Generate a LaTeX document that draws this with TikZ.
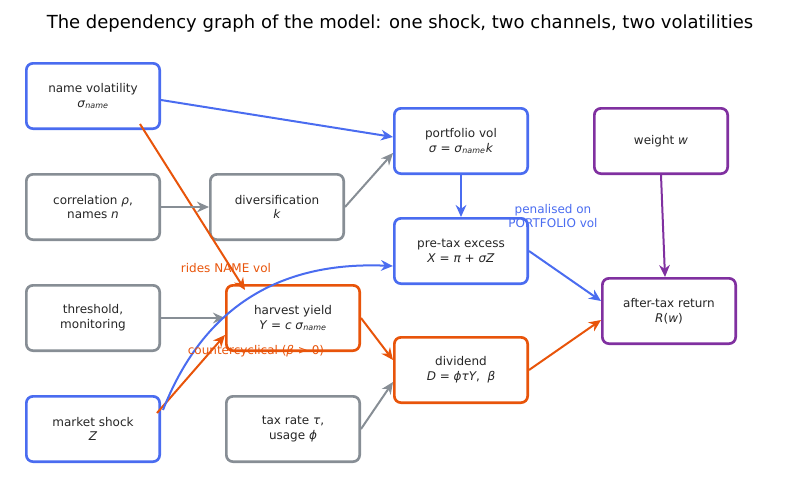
\documentclass[tikz,border=0pt]{standalone}
\usepackage{fontspec}
\setmainfont{DejaVu Sans}
\usetikzlibrary{arrows.meta}
\definecolor{cblue}{HTML}{4A6CF0}
\definecolor{cgray}{HTML}{878E95}
\definecolor{corange}{HTML}{E8540A}
\definecolor{cpurple}{HTML}{8030A0}
\newcommand{\vi}[1]{\textit{#1}}
\newcommand{\sub}[1]{\textsubscript{\textit{#1}}}
\begin{document}
\begin{tikzpicture}[x=0.75pt,y=-0.75pt,font=\small]
  \tikzstyle{box}=[draw, line width=2pt, rounded corners=5pt, minimum width=100pt, minimum height=49pt, align=center, fill=white, text=black!85]
  \tikzstyle{bluebox}=[box, draw=cblue]
  \tikzstyle{graybox}=[box, draw=cgray]
  \tikzstyle{orangebox}=[box, draw=corange]
  \tikzstyle{purplebox}=[box, draw=cpurple]
  \tikzstyle{link}=[line width=1.5pt, -{Stealth[length=9pt,width=8pt]}]
  \tikzstyle{lbl}=[font=\small, inner sep=1pt]

  \useasboundingbox (0,0) rectangle (800,497);
  \node at (400,24) {\fontsize{13.5}{16}\selectfont The dependency graph of the model: one shock, two channels, two volatilities};

  \node (namevol) [bluebox] at (93,96) {name volatility\\\vi{σ}\sub{name}};
  \node (corr) [graybox] at (93,207) {correlation \vi{ρ},\\names \vi{n}};
  \node (thresh) [graybox] at (93,318) {threshold,\\monitoring};
  \node (shock) [bluebox] at (93,429) {market shock\\\vi{Z}};
  \node (divers) [graybox] at (277,207) {diversification\\\vi{k}};
  \node (harvest) [orangebox] at (293,318) {harvest yield\\\vi{Y} = \vi{c} \vi{σ}\sub{name}};
  \node (tax) [graybox] at (293,429) {tax rate \vi{τ},\\usage \vi{ϕ}};
  \node (portvol) [bluebox] at (461,141) {portfolio vol\\\vi{σ} = \vi{σ}\sub{name}\vi{k}};
  \node (pretax) [bluebox] at (461,251) {pre-tax excess\\\vi{X} = \vi{π} + \vi{σZ}};
  \node (divid) [orangebox] at (461,370) {dividend\\\vi{D} = \vi{ϕτY},\ \ \vi{β}};
  \node (weight) [purplebox] at (661,141) {weight \vi{w}};
  \node (after) [purplebox] at (669,311) {after-tax return\\\vi{R}(\vi{w})};

  \draw [link, cblue] (namevol.east |- 0,100) -- (portvol.west |- 0,137);
  \draw [link, corange] (140,124) -- (245,290) coordinate (hv);
  \draw [link, cgray] (corr) -- (divers);
  \draw [link, cgray] (divers.east) -- (portvol.south west |- 0,153);
  \draw [link, cgray] (thresh) -- (harvest);
  \draw [link, corange] (157,413) -- (harvest.south west |- 0,335);
  \draw [link, cblue] (163,410) .. controls (210,290) and (300,262) .. (pretax.west |- 0,266);
  \draw [link, cgray] (tax.east) -- (divid.south west |- 0,382);
  \draw [link, corange] (harvest.east) -- (divid.west |- 0,360);
  \draw [link, cblue] (portvol) -- (pretax);
  \draw [link, cblue] (pretax.east) -- (after.west |- 0,301);
  \draw [link, corange] (divid.east) -- (after.west |- 0,320);
  \draw [link, cpurple] (weight.south) -- (after.north -| 665,0);

  \node [lbl, text=corange] at (226,268) {rides NAME vol};
  \node [lbl, text=corange] at (256,351) {countercyclical (\vi{β} > 0)};
  \node [lbl, text=cblue, align=center] at (553,216) {penalised on\\PORTFOLIO vol};
\end{tikzpicture}
\end{document}
